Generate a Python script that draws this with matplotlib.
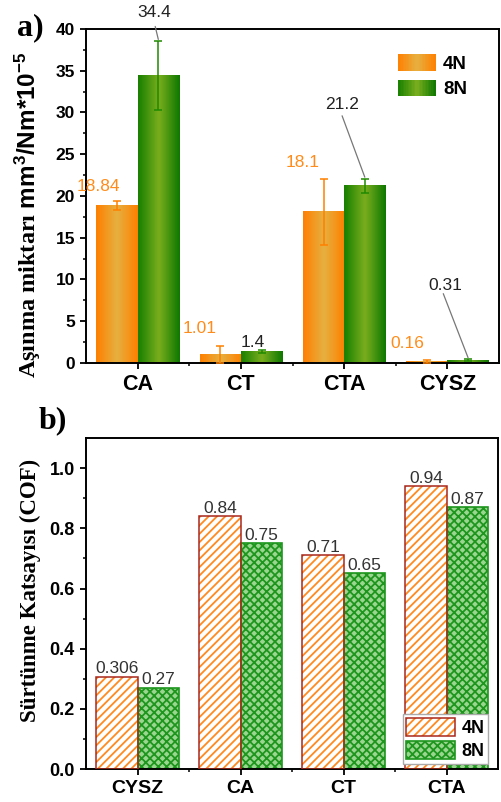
import numpy as np
import matplotlib
matplotlib.use("Agg")
import matplotlib.pyplot as plt
from matplotlib.colors import LinearSegmentedColormap
from matplotlib.legend_handler import HandlerBase, HandlerTuple
from matplotlib.patches import Rectangle
from matplotlib.ticker import MultipleLocator, FixedLocator

# ---- data: panel a (wear amount) ----
wear_cats = ["CA", "CT", "CTA", "CYSZ"]
wear_4n = [18.84, 1.01, 18.1, 0.16]
wear_8n = [34.4, 1.4, 21.2, 0.31]
wear_4n_err = [0.55, 1.05, 3.95, 0.2]
wear_8n_err = [4.15, 0.15, 0.85, 0.12]
wear_4n_txt = ["18.84", "1.01", "18.1", "0.16"]
wear_8n_txt = ["34.4", "1.4", "21.2", "0.31"]

# ---- data: panel b (friction coefficient) ----
cof_cats = ["CYSZ", "CA", "CT", "CTA"]
cof_4n = [0.306, 0.84, 0.71, 0.94]
cof_8n = [0.27, 0.75, 0.65, 0.87]
cof_4n_txt = ["0.306", "0.84", "0.71", "0.94"]
cof_8n_txt = ["0.27", "0.75", "0.65", "0.87"]

# label placement for panel a (data coords)
pos_4n_txt = [(-0.38, 21.1), (0.60, 4.1), (1.60, 24.0), (2.61, 2.3)]
pos_8n_txt = [(0.16, 42.0), (1.11, 2.4), (1.98, 30.9), (2.98, 9.3)]
leader_8n = {0: (0.17, 40.3), 2: (1.98, 29.6), 3: (2.96, 8.3)}

plt.rcParams['mathtext.fontset'] = 'custom'
plt.rcParams['mathtext.rm'] = 'Liberation Sans:bold'
plt.rcParams['mathtext.bf'] = 'Liberation Sans:bold'
plt.rcParams['mathtext.it'] = 'Liberation Sans:bold'
plt.rcParams['hatch.linewidth'] = 1.3

ORANGE = '#FF8000'
ORANGE_TXT = '#FF8C1A'
GREEN = '#1F8A00'
DARK = '#222222'

cm_or = LinearSegmentedColormap.from_list('or', ['#FF8000', '#E6B040', '#FF8000'])
cm_gr = LinearSegmentedColormap.from_list('gr', ['#188000', '#7AAE1E', '#0E7800'])


class GradHandler(HandlerBase):
  def __init__(self, cmap):
    super().__init__()
    self.cmap = cmap

  def create_artists(self, legend, orig_handle, xdescent, ydescent, width, height, fontsize, trans):
    n = 24
    arts = []
    for i in range(n):
      r = Rectangle((-xdescent + i * width / n, -ydescent), width / n * 1.05, height,
                    facecolor=self.cmap((i + 0.5) / n), edgecolor='none', transform=trans)
      arts.append(r)
    return arts


def style_axis(ax):
  for s in ax.spines.values():
    s.set_linewidth(1.4)
  ax.tick_params(which='major', direction='out', length=4.5, width=1.3)
  ax.tick_params(which='minor', direction='out', length=2.5, width=1.1)
  for lab in ax.get_xticklabels() + ax.get_yticklabels():
    lab.set_family('Liberation Sans')
    lab.set_weight('bold')


fig = plt.figure(figsize=(5.01, 8.02), dpi=100)

# ================= panel a =================
ax = fig.add_axes([0.1717, 0.5474, 0.8244, 0.4165])
x = np.arange(len(wear_cats))
w = 0.4
b4 = ax.bar(x - w / 2, wear_4n, w, facecolor='none', edgecolor='none', label='4N')
b8 = ax.bar(x + w / 2, wear_8n, w, facecolor='none', edgecolor='none', label='8N')
grad = np.linspace(0, 1, 64).reshape(1, -1)
for bars, cm in ((b4, cm_or), (b8, cm_gr)):
  for p in bars:
    ax.imshow(grad, cmap=cm, extent=[p.get_x(), p.get_x() + p.get_width(), 0, p.get_height()],
              aspect='auto', zorder=2, interpolation='bicubic')
ax.errorbar(x - w / 2, wear_4n, yerr=wear_4n_err, fmt='none', ecolor=ORANGE, elinewidth=1.1,
            capsize=3, capthick=1.1, zorder=3)
ax.errorbar(x + w / 2, wear_8n, yerr=wear_8n_err, fmt='none', ecolor=GREEN, elinewidth=1.1,
            capsize=3, capthick=1.1, zorder=3)

for i in range(len(wear_cats)):
  ax.text(*pos_4n_txt[i], wear_4n_txt[i], color=ORANGE_TXT, fontsize=12.5,
          family='Liberation Sans', ha='center', va='center', zorder=5, clip_on=False)
  ax.text(*pos_8n_txt[i], wear_8n_txt[i], color=DARK, fontsize=12.5,
          family='Liberation Sans', ha='center', va='center', zorder=5, clip_on=False)
  if i in leader_8n:
    ax.annotate('', xy=(x[i] + w / 2, wear_8n[i] + wear_8n_err[i] + 0.2), xytext=leader_8n[i],
                arrowprops=dict(arrowstyle='-', color='#777777', lw=0.9, shrinkA=0, shrinkB=0),
                annotation_clip=False)

ax.set_xlim(-0.5, 3.5)
ax.set_ylim(0, 40)
ax.set_xticks(x)
ax.set_xticklabels(wear_cats, fontsize=15.5)
ax.xaxis.set_minor_locator(FixedLocator([0.5, 1.5, 2.5]))
ax.yaxis.set_major_locator(MultipleLocator(5))
ax.yaxis.set_minor_locator(MultipleLocator(2.5))
ax.tick_params(axis='y', labelsize=12.5)
style_axis(ax)
ax.set_ylabel('Aşınma miktarı ' + r'$\mathbf{mm^3/Nm{*}10^{-5}}$', family='Liberation Serif',
              weight='bold', fontsize=17.5)
ax.yaxis.set_label_coords(-0.105, 0.443)

leg = ax.legend(handles=[b4, b8], labels=['4N', '8N'], loc='upper left', bbox_to_anchor=(0.715, 0.975),
                frameon=False, handler_map={b4: GradHandler(cm_or), b8: GradHandler(cm_gr)},
                prop={'family': 'Liberation Sans', 'weight': 'bold', 'size': 13.5},
                handlelength=2.0, handleheight=1.0, labelspacing=0.35, handletextpad=0.4)

fig.text(0.06, 0.965, 'a)', family='Liberation Serif', weight='bold', fontsize=23, ha='center', va='center')

# ================= panel b =================
bx = fig.add_axes([0.1717, 0.0411, 0.8224, 0.4127])
xb = np.arange(len(cof_cats))
h4 = bx.bar(xb - w / 2, cof_4n, w, facecolor='white', edgecolor='#FF8A1F', hatch='////', linewidth=0, zorder=2)
e4 = bx.bar(xb - w / 2, cof_4n, w, facecolor='none', edgecolor='#A8281E', linewidth=1.1, zorder=3)
h8 = bx.bar(xb + w / 2, cof_8n, w, facecolor='#9AD68F', edgecolor='#1E961E', hatch='xxxx', linewidth=1.2, zorder=2)

for i in range(len(cof_cats)):
  bx.annotate(cof_4n_txt[i], (xb[i] - w / 2, cof_4n[i]), xytext=(0, 0.5), textcoords='offset points',
              ha='center', va='bottom', fontsize=12.5, color='#333333', family='Liberation Sans', zorder=5)
  bx.annotate(cof_8n_txt[i], (xb[i] + w / 2, cof_8n[i]), xytext=(0, 0.5), textcoords='offset points',
              ha='center', va='bottom', fontsize=12.5, color='#333333', family='Liberation Sans', zorder=5)

bx.set_xlim(-0.5, 3.5)
bx.set_ylim(0, 1.1)
bx.set_xticks(xb)
bx.set_xticklabels(cof_cats, fontsize=14)
bx.xaxis.set_minor_locator(FixedLocator([0.5, 1.5, 2.5]))
bx.yaxis.set_major_locator(FixedLocator([0, 0.2, 0.4, 0.6, 0.8, 1.0]))
bx.yaxis.set_minor_locator(FixedLocator(np.arange(0.1, 1.1, 0.2)))
bx.set_yticklabels(['0.0', '0.2', '0.4', '0.6', '0.8', '1.0'])
bx.tick_params(axis='y', labelsize=13)
style_axis(bx)
bx.set_ylabel('Sürtünme Katsayısı (COF)', family='Liberation Serif', weight='bold', fontsize=16.5)
bx.yaxis.set_label_coords(-0.11, 0.54)

leg2 = bx.legend(handles=[(h4[0], e4[0]), h8[0]], labels=['4N', '8N'], loc='lower left',
                 bbox_to_anchor=(0.76, 0.005), handler_map={tuple: HandlerTuple(ndivide=1)},
                 prop={'family': 'Liberation Sans', 'weight': 'bold', 'size': 13},
                 fancybox=False, edgecolor='#AAAAAA', framealpha=1, borderpad=0.2,
                 handlelength=2.7, handleheight=1.2, labelspacing=0.2, handletextpad=0.35,
                 borderaxespad=0.2)
leg2.get_frame().set_linewidth(1.0)

fig.text(0.105, 0.476, 'b)', family='Liberation Serif', weight='bold', fontsize=23, ha='center', va='center')

fig.savefig('out.png', dpi=100)
